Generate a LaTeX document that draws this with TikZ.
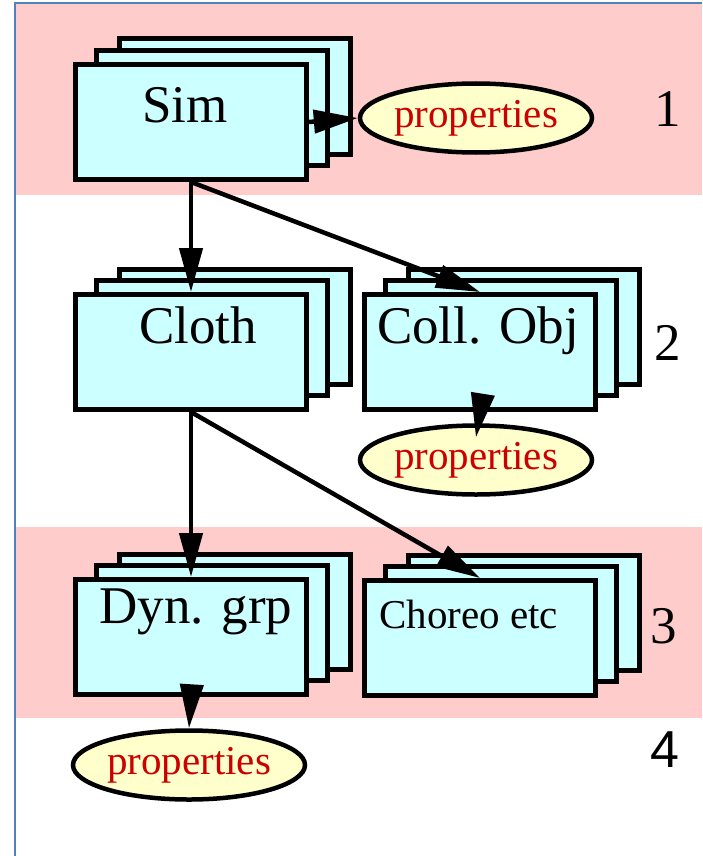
\documentclass[tikz,border=0pt]{standalone}
\usepackage{fontspec}
\setmainfont{Liberation Serif}
\newfontfamily\arialf{Liberation Sans}
\usetikzlibrary{shapes.geometric,arrows.meta}
\definecolor{bandpink}{RGB}{255,204,204}
\definecolor{boxcyan}{RGB}{204,255,255}
\definecolor{elly}{RGB}{255,255,204}
\definecolor{propred}{RGB}{204,0,0}
\definecolor{frameblue}{RGB}{79,129,189}
\newcommand\backpair[2]{%
  \draw[backbox] (#1+46,#2-23) rectangle ++(231,115);
  \draw[backbox] (#1+23,#2-11.5) rectangle ++(231,115);}
\begin{document}
\begin{tikzpicture}[x=1pt,y=-1pt,
  backbox/.style={draw=black, fill=boxcyan, line width=5pt},
  box/.style={draw=black, fill=boxcyan, line width=5pt, minimum width=231pt, minimum height=115pt, inner sep=0pt, anchor=north west},
  prop/.style={ellipse, draw=black, fill=elly, line width=4.5pt, minimum width=232pt, minimum height=69pt, inner sep=0pt, text=propred, font=\fontsize{41pt}{45pt}\selectfont},
  lbl/.style={font=\fontsize{53pt}{60pt}\selectfont, inner sep=0pt, anchor=base},
  num/.style={font=\fontsize{53pt}{60pt}\selectfont, inner sep=0pt, anchor=base},
  arr/.style={line width=4.5pt, -{Triangle[length=44pt,width=23pt]}},
  band/.style={fill=bandpink, draw=none}]

\useasboundingbox (0,0) rectangle (702,856);
\fill[white] (0,0) rectangle (702,856);
\fill[band] (16,4) rectangle (702,195);
\fill[band] (16,527) rectangle (702,718);
\draw[frameblue, line width=2pt] (15,856) -- (15,3) -- (702,3);

% stacks
\backpair{73}{62}
\node[box] (sim) at (73,62) {};
\backpair{73}{292}
\node[box] (cloth) at (73,292) {};
\backpair{362}{292}
\node[box] (coll) at (362,292) {};
\backpair{73}{577}
\node[box] (dyn) at (73,577) {};
\backpair{362}{578}
\node[box] (choreo) at (362,578) {};

% labels
\node[lbl] (simt) at (185,123) {Sim};
\node[lbl] (clotht) at (198,343) {Cloth};
\node[lbl] (collt) at (478,343) {Coll. Obj};
\node[lbl] (dynt) at (196,623) {Dyn. grp};
\node[font=\fontsize{41pt}{46pt}\selectfont, inner sep=0pt, anchor=base west] (choreot) at (379,628) {Choreo etc};

% property ellipses
\node[prop] (p1) at (476,118) {properties};
\node[prop] (p2) at (476,460) {properties};
\node[prop] (p3) at (189,765) {properties};

% level numbers
\node[num] (n1) at (668,127) {1};
\node[num] (n2) at (668,360) {2};
\node[num] (n3) at (664,643) {3};
\node[num, font=\arialf\fontsize{52pt}{60pt}\selectfont] (n4) at (665,767) {4};

% connectors
\draw[arr] (sim.east) -- (p1.west);
\draw[arr] (sim.south) -- (cloth.north);
\draw[arr] (sim.south) -- (coll.north);
\draw[arr] (coll.south) -- ([yshift=-14pt]p2.north);
\draw[arr] (cloth.south) -- (dyn.north);
\draw[arr] (cloth.south) -- (choreo.north);
\draw[arr] (dyn.south) -- (p3.north);
\end{tikzpicture}
\end{document}
